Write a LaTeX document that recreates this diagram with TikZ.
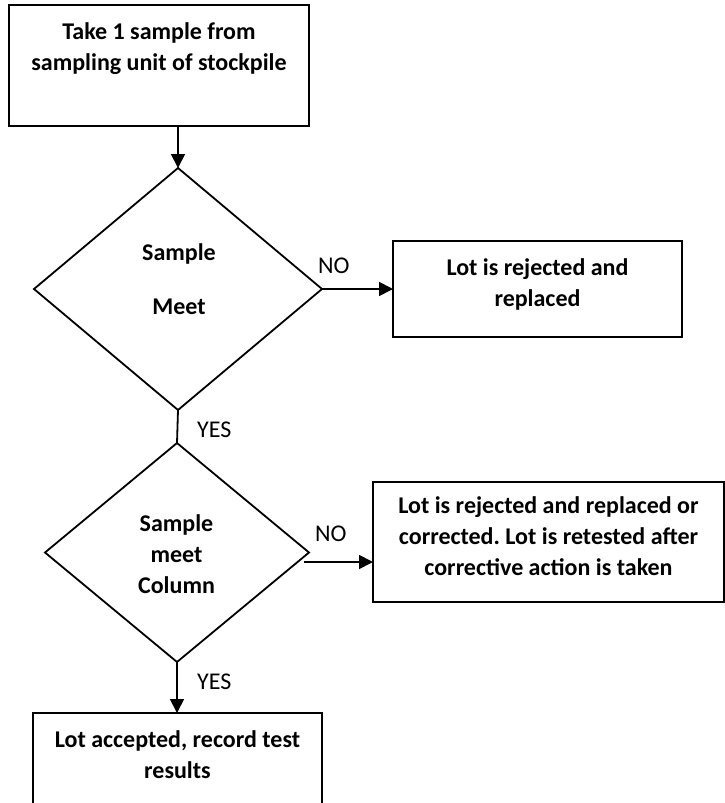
\documentclass[tikz,border=0pt]{standalone}
\usepackage{fontspec}
\setmainfont{Carlito}
\frenchspacing
\usetikzlibrary{shapes.geometric,arrows.meta}
\begin{document}
\begin{tikzpicture}[x=1pt,y=-1pt,
  box/.style={draw,line width=2.4pt,rectangle,inner sep=0,outer sep=0},
  dia/.style={draw,line width=1.8pt,diamond,inner sep=0,outer sep=0},
  txt/.style={font=\fontsize{24}{31}\selectfont\bfseries,anchor=base,inner sep=0},
  lbl/.style={font=\fontsize{24}{31}\selectfont,anchor=base west,inner sep=0},
  arr/.style={line width=1.8pt,-{Triangle[length=14pt,width=14pt]}},
  ln/.style={line width=1.8pt}]
\useasboundingbox (0,0) rectangle (725,803);
% boxes
\node[box,minimum width=300pt,minimum height=121pt] (b1) at (159,65.5) {};
\node[box,minimum width=289pt,minimum height=96pt] (b2) at (537.5,289) {};
\node[box,minimum width=351pt,minimum height=120pt] (b3) at (548.5,542) {};
\node[box,minimum width=289pt,minimum height=130pt] (b4) at (177.5,778) {};
% diamonds
\node[dia,minimum width=288pt,minimum height=242pt] (d1) at (178,289) {};
\node[dia,minimum width=264pt,minimum height=219pt] (d2) at (177,552.5) {};
% texts
\node[txt] (t1) at (159,39) {\begin{tabular}[t]{@{}c@{}}Take 1 sample from\\sampling unit of stockpile\end{tabular}};
\node[txt] (t2) at (537.5,275) {\begin{tabular}[t]{@{}c@{}}Lot is rejected and\\replaced\end{tabular}};
\node[txt] (t3) at (548.5,513) {\begin{tabular}[t]{@{}c@{}}Lot is rejected and replaced or\\corrected. Lot is retested after\\corrective action is taken\end{tabular}};
\node[txt] (t4) at (177.5,747) {\begin{tabular}[t]{@{}c@{}}Lot accepted, record test\\results\end{tabular}};
\node[txt] (td1) at (179,260) {\begin{tabular}[t]{@{}c@{}}Sample\\[23pt]Meet\end{tabular}};
\node[txt] (td2) at (176.5,531) {\begin{tabular}[t]{@{}c@{}}Sample\\meet\\Column\end{tabular}};
% labels
\node[lbl] (no1) at (318,273) {NO};
\node[lbl] (no2) at (315,541) {NO};
\node[lbl] (yes1) at (197,437) {YES};
\node[lbl] (yes2) at (197,689) {YES};
% connectors
\coordinate (c1) at (178,126);
\draw[arr] (c1) -- (d1.north);
\draw[arr] (d1.east) -- (d1.east -| b2.west);
\draw[ln] (d1.south) -- (d2.north);
\coordinate (c2) at (304,562);
\draw[arr] (c2) -- (c2 -| b3.west);
\draw[arr] (d2.south) -- (d2.south |- b4.north);
\end{tikzpicture}
\end{document}
